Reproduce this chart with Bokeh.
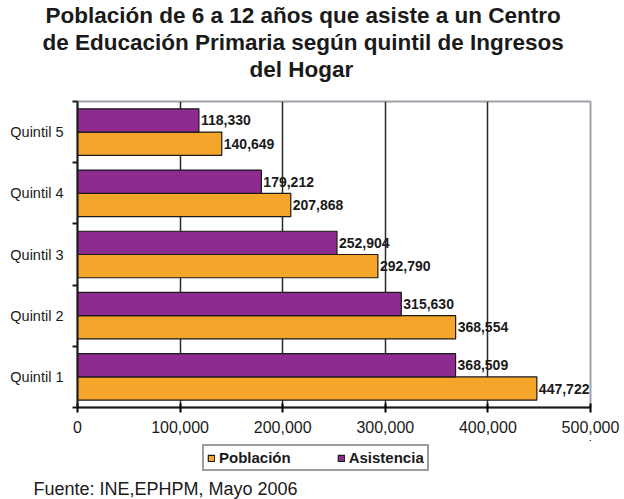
from bokeh.plotting import figure
from bokeh.layouts import column
from bokeh.models import (Range1d, FixedTicker, NumeralTickFormatter, Title, Legend,
                          LegendItem, ColumnDataSource, LabelSet)
from bokeh.embed import file_html
from bokeh.resources import INLINE
from bokeh.core.properties import value

quintiles = ["Quintil 1", "Quintil 2", "Quintil 3", "Quintil 4", "Quintil 5"]
poblacion = [447722, 368554, 292790, 207868, 140649]
asistencia = [368509, 315630, 252904, 179212, 118330]
x_ticks = [0, 100000, 200000, 300000, 400000, 500000]
series_names = ["Población", "Asistencia"]
title_lines = ["Población de 6 a 12 años que asiste a un Centro",
               "de Educación Primaria según quintil de Ingresos",
               "del Hogar"]
source_text = "Fuente: INE,EPHPM, Mayo 2006"

ORANGE = "#F4A52A"
PURPLE = "#8E2B8F"
INK = "#1a1a1a"
FONT = "Liberation Sans"

W, H1, H2 = 624, 440, 59
FL, FR, FT, FB = 77, 590, 99, 407   # frame edges in canvas pixels
p = figure(width=W, height=H1, output_backend="svg", toolbar_location=None,
           x_range=Range1d(0, 500000), y_range=Range1d(0, 5),
           min_border_left=FL, min_border_right=W - FR, min_border_top=FT,
           min_border_bottom=H1 - FB, background_fill_color="white",
           border_fill_color="white")
p.outline_line_color = "#9EA2AA"
p.outline_line_width = 2

centers = [i + 0.5 for i in range(len(quintiles))]
src = ColumnDataSource(dict(
    y_pob=[c - 0.19 for c in centers],
    y_asi=[c + 0.19 for c in centers],
    pob=poblacion, asi=asistencia,
    pob_txt=[f"{v:,}" for v in poblacion],
    asi_txt=[f"{v:,}" for v in asistencia],
))

r_pob = p.hbar(y="y_pob", right="pob", left=0, height=0.38, source=src,
               fill_color=ORANGE, line_color=INK, line_width=1.2)
r_asi = p.hbar(y="y_asi", right="asi", left=0, height=0.38, source=src,
               fill_color=PURPLE, line_color=INK, line_width=1.2)

for xcol, ycol, tcol in [("pob", "y_pob", "pob_txt"), ("asi", "y_asi", "asi_txt")]:
    p.add_layout(LabelSet(x=xcol, y=ycol, text=tcol, source=src, x_offset=2,
                          text_baseline="middle", text_font=value(FONT),
                          text_font_size="14px", text_font_style="bold",
                          text_color=INK))

# axes
p.xaxis.ticker = FixedTicker(ticks=x_ticks)
p.xaxis.formatter = NumeralTickFormatter(format="0,0")
p.xaxis.major_label_text_font = FONT
p.xaxis.major_label_text_font_size = "16px"
p.xaxis.major_label_text_color = INK
p.xaxis.major_tick_in = 4
p.xaxis.major_tick_out = 5
p.xaxis.minor_tick_line_color = None
p.xaxis.axis_line_color = INK
p.xaxis.axis_line_width = 2
p.xaxis.major_tick_line_width = 2
p.xaxis.major_label_standoff = 8

p.yaxis.ticker = FixedTicker(ticks=centers, minor_ticks=[0, 1, 2, 3, 4, 5])
p.yaxis.major_label_overrides = {c: q for c, q in zip(centers, quintiles)}
p.yaxis.major_tick_line_color = None
p.yaxis.major_tick_in = 0
p.yaxis.major_tick_out = 0
p.yaxis.minor_tick_in = 0
p.yaxis.minor_tick_out = 5
p.yaxis.minor_tick_line_width = 2
p.yaxis.minor_tick_line_color = INK
p.yaxis.axis_line_color = INK
p.yaxis.axis_line_width = 2
p.yaxis.major_label_text_font = FONT
p.yaxis.major_label_text_font_size = "14.5px"
p.yaxis.major_label_text_color = INK
p.yaxis.major_label_standoff = 9

p.xgrid.ticker = FixedTicker(ticks=x_ticks[1:-1])
p.xgrid.grid_line_color = "#2a2a2a"
p.xgrid.grid_line_width = 1.5
p.ygrid.grid_line_color = None

# title: a small spacer next to the frame, then the three lines upwards
p.add_layout(Title(text=" ", text_font_size="11px", standoff=6), "above")
title_offsets = [-32, -35, 172]   # left offsets (px from frame left) centring each line at x=302
for line, off in reversed(list(zip(title_lines, title_offsets))):
    p.add_layout(Title(text=line, align="left", offset=off, standoff=0,
                       text_font=FONT, text_font_size="22.5px",
                       text_font_style="bold", text_color=INK), "above")

# lower strip: legend and source note
q = figure(width=W, height=H2, output_backend="svg", toolbar_location=None,
           x_range=Range1d(-2, -1), y_range=Range1d(-2, -1),
           x_axis_type=None, y_axis_type=None,
           min_border_left=0, min_border_right=0, min_border_top=0, min_border_bottom=0,
           background_fill_color="white", border_fill_color="white")
q.outline_line_color = None
q.xgrid.grid_line_color = None
q.ygrid.grid_line_color = None
# same series drawn in the strip (outside its visible range) so the legend has real renderers
k_pob = q.hbar(y="y_pob", right="pob", left=0, height=0.38, source=src,
               fill_color=ORANGE, line_color=INK, line_width=1.2)
k_asi = q.hbar(y="y_asi", right="asi", left=0, height=0.38, source=src,
               fill_color=PURPLE, line_color=INK, line_width=1.2)

legend = Legend(items=[LegendItem(label=series_names[0], renderers=[k_pob]),
                       LegendItem(label=series_names[1], renderers=[k_asi])],
                orientation="horizontal", location=(125, 4))
legend.border_line_color = "#3a3a3a"
legend.border_line_width = 2
legend.background_fill_color = "white"
legend.glyph_width = 8
legend.glyph_height = 8
legend.label_text_font = FONT
legend.label_text_font_size = "15px"
legend.label_text_font_style = "bold"
legend.label_text_color = INK
legend.label_standoff = 4
legend.spacing = 46
legend.padding = 3
legend.margin = 0
legend.label_height = 12
q.add_layout(legend)

q.add_layout(Title(text=source_text, align="left", offset=33 - FL, standoff=2,
                   text_font=FONT, text_font_size="18px", text_font_style="normal",
                   text_color=INK), "below")

layout = column(p, q, spacing=0)
open("out.html", "w").write(file_html(layout, INLINE))
